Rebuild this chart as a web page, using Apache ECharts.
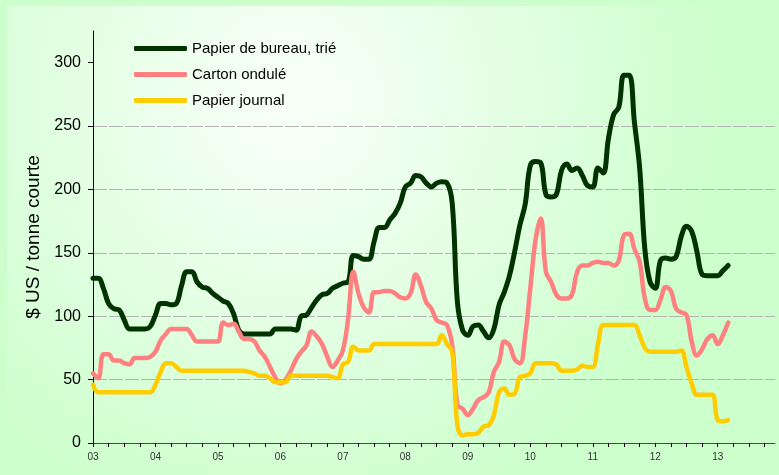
<!DOCTYPE html>
<html>
<head>
<meta charset="utf-8">
<script src="https://cdn.jsdelivr.net/npm/echarts@6/dist/echarts.min.js"></script>
<style>
  html, body { margin: 0; padding: 0; background: #ccffcc; }
  #chart { width: 779px; height: 475px; }
</style>
</head>
<body>
<div id="chart"></div>
<script>
// year labels on the x axis (one category per month)
const years = ['03', '04', '05', '06', '07', '08', '09', '10', '11', '12', '13']
const yTicks = [0, 50, 100, 150, 200, 250, 300]

// monthly prices, $ US / short ton, from Jan 2003 to Mar 2013
const bureau = [
  130, 130, 122, 110, 106, 105, 97, 90, 90, 90, 90, 92,
  101, 110, 110, 109, 110, 124, 135, 135, 127, 123, 122, 118,
  115, 112, 110, 102, 89, 86, 86, 86, 86, 86, 86, 90,
  90, 90, 90, 89, 100, 101, 107, 113, 117, 118, 122, 124,
  126, 127, 148, 147, 145, 145, 159, 170, 170, 176, 181, 189,
  202, 205, 211, 210, 205, 202, 205, 206, 205, 189, 111, 89,
  85, 92, 93, 88, 83, 90, 109, 119, 132, 151, 172, 188,
  219, 222, 221, 196, 194, 196, 215, 220, 215, 217, 211, 203,
  202, 217, 213, 240, 259, 265, 290, 290, 253, 217, 153, 127,
  122, 144, 146, 145, 147, 163, 171, 167, 151, 133, 132, 132,
  132, 136, 140
]
const carton = [
  55, 51, 70, 70, 65, 65, 63, 62, 67, 67, 67, 68,
  72, 81, 86, 90, 90, 90, 90, 85, 80, 80, 80, 80,
  80, 95, 93, 94, 88, 82, 82, 80, 73, 68, 60, 52,
  47, 50, 57, 66, 72, 77, 88, 84, 78, 68, 60, 65,
  73, 98, 135, 118, 107, 103, 119, 119, 120, 120, 118, 115,
  114, 118, 133, 124, 111, 106, 97, 95, 93, 77, 30, 27,
  22, 27, 34, 36, 40, 56, 64, 80, 77, 66, 63, 84,
  122, 160, 177, 135, 127, 117, 114, 114, 117, 135, 140, 140,
  142, 143, 142, 142, 140, 144, 164, 165, 153, 143, 114, 105,
  105, 113, 123, 120, 106, 103, 101, 80, 69, 74, 82, 85,
  78, 85, 95
]
const journal = [
  46, 40, 40, 40, 40, 40, 40, 40, 40, 40, 40, 40,
  46, 56, 63, 63, 60, 57, 57, 57, 57, 57, 57, 57,
  57, 57, 57, 57, 57, 57, 56, 55, 53, 53, 51, 48,
  48, 48, 53, 53, 53, 53, 53, 53, 53, 53, 52, 51,
  62, 64, 76, 73, 73, 73, 78, 78, 78, 78, 78, 78,
  78, 78, 78, 78, 78, 78, 78, 85, 78, 72, 14, 6,
  7, 7, 8, 13, 14, 22, 40, 43, 38, 39, 52, 53,
  55, 63, 63, 63, 63, 62, 57, 57, 57, 58, 61, 60,
  60, 78, 93, 93, 93, 93, 93, 93, 93, 85, 75, 72,
  72, 72, 72, 72, 72, 73, 60, 47, 38, 38, 38, 38,
  18, 17, 18
]

const categories = []
years.forEach(y => {
  for (let m = 1; m <= 12; m++) categories.push(y + '-' + m)
})

const bgGrad = {
  type: 'radial', x: 290, y: 100, r: 440, global: true,
  colorStops: [
    { offset: 0, color: '#f8fff8' },
    { offset: 0.15, color: '#f4fff4' },
    { offset: 1, color: '#ccffcc' }
  ]
}

const chart = echarts.init(document.getElementById('chart'))
chart.setOption({
  animation: false,
  backgroundColor: '#ccffcc',
  textStyle: { fontFamily: 'Liberation Sans, Arial, sans-serif' },
  graphic: [
    { type: 'rect', silent: true, z: -10, shape: { x: 7, y: 6, width: 772, height: 469 }, style: { fill: bgGrad } },
    // legend box hides the grid line behind it
    { type: 'rect', silent: true, z: 1, shape: { x: 107, y: 36, width: 263, height: 76 }, style: { fill: bgGrad } }
  ],
  grid: { left: 93, right: 4, top: 31, bottom: 32 },
  legend: {
    left: 104,
    top: 40,
    orient: 'vertical',
    padding: [1, 20, 5, 30],
    icon: 'roundRect',
    itemWidth: 53,
    itemHeight: 5,
    itemGap: 11,
    textStyle: { fontSize: 15, color: '#000', lineHeight: 14 },
    data: ['Papier de bureau, trié', 'Carton ondulé', 'Papier journal']
  },
  xAxis: {
    type: 'category',
    data: categories,
    boundaryGap: false,
    axisLine: { lineStyle: { color: '#4a4a4a', width: 1 } },
    axisTick: {
      interval: i => i % 3 === 0,
      length: 4,
      lineStyle: { color: '#000' }
    },
    axisLabel: {
      interval: i => i % 12 === 0,
      formatter: v => v.split('-')[0],
      fontSize: 10,
      color: '#333',
      margin: 9
    },
    splitLine: { show: false }
  },
  yAxis: {
    type: 'value',
    min: 0,
    max: 325,
    interval: 50,
    name: '$ US / tonne courte',
    nameLocation: 'middle',
    nameGap: 47,
    nameTextStyle: { fontSize: 19, color: '#000' },
    axisLine: { show: true, lineStyle: { color: '#000' } },
    axisTick: { show: true, length: 5, customValues: yTicks, lineStyle: { color: '#000' } },
    axisLabel: { customValues: yTicks, fontSize: 16, color: '#000', margin: 12 },
    splitLine: {
      show: true,
      showMinLine: false,
      showMaxLine: false,
      lineStyle: { color: '#b4b4b4', type: [14, 2] }
    }
  },
  series: [
    {
      name: 'Papier de bureau, trié',
      type: 'line',
      data: bureau,
      smooth: 0.4,
      symbol: 'none',
      color: '#003300',
      lineStyle: { width: 5, color: '#003300', cap: 'round', join: 'round' }
    },
    {
      name: 'Carton ondulé',
      type: 'line',
      data: carton,
      smooth: 0.4,
      symbol: 'none',
      color: '#ff8080',
      lineStyle: { width: 4.5, color: '#ff8080', cap: 'round', join: 'round' }
    },
    {
      name: 'Papier journal',
      type: 'line',
      data: journal,
      smooth: 0.4,
      symbol: 'none',
      color: '#ffcc00',
      lineStyle: { width: 4.5, color: '#ffcc00', cap: 'round', join: 'round' }
    }
  ]
})
</script>
</body>
</html>
